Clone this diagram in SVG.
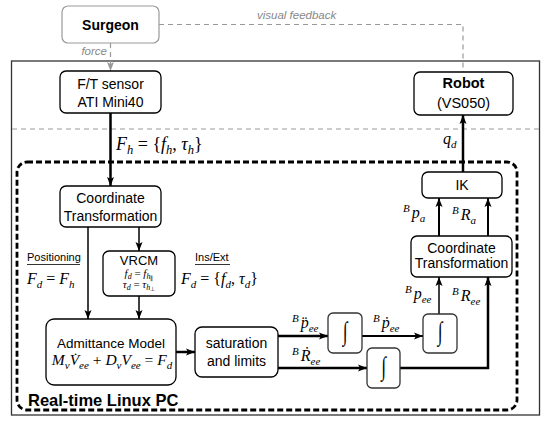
<svg xmlns="http://www.w3.org/2000/svg" width="550" height="426" viewBox="0 0 550 426">
<defs>
<style>
.box{fill:#fff;stroke:#000;stroke-width:1.3}
.ibox{fill:#fff;stroke:#333;stroke-width:1.3}
.t{font-family:"Liberation Sans",Arial,sans-serif;font-size:14px;text-anchor:middle;fill:#000}
.b{font-weight:bold}
.g{font-family:"Liberation Sans",Arial,sans-serif;font-style:italic;font-size:11.5px;fill:#888}
.m{font-family:"Liberation Serif","Times New Roman",serif;font-style:italic;font-size:16px;fill:#000}
.u{font-style:normal}
.sb{font-size:11px}
.sp{font-size:11px}
.c{fill:none;stroke:#000}
.gd{fill:none;stroke:#999;stroke-width:1.2;stroke-dasharray:5,4}
.int{font-family:"Liberation Serif",serif;font-style:italic;font-size:24px;text-anchor:middle}
</style>
<marker id="ah" markerUnits="userSpaceOnUse" markerWidth="10" markerHeight="8" refX="9" refY="4" orient="auto">
<path d="M0,0.5 L9,4 L0,7.5 L2,4 z" fill="#000"/>
</marker>
<marker id="ahg" markerUnits="userSpaceOnUse" markerWidth="10" markerHeight="8" refX="9" refY="4" orient="auto">
<path d="M0,0.5 L9,4 L0,7.5 L2,4 z" fill="#999"/>
</marker>
</defs>
<rect width="550" height="426" fill="#fff"/>

<!-- frames -->
<rect x="11.5" y="61" width="528" height="354" fill="none" stroke="#333" stroke-width="1.3"/>
<path class="gd" d="M12,129 H539"/>
<rect x="17" y="162" width="500" height="248" rx="10" fill="none" stroke="#000" stroke-width="2.8" stroke-dasharray="6,3"/>
<text x="28" y="406" font-family="Liberation Sans,Arial,sans-serif" font-weight="bold" font-size="16.5">Real-time Linux PC</text>

<!-- connectors -->
<g id="connectors">
<path class="gd" d="M159,24.5 H463 V72"/>
<text class="g" x="257" y="19">visual feedback</text>
<path class="gd" d="M110.5,43 V71" marker-end="url(#ahg)"/>
<text class="g" x="107" y="55" text-anchor="end">force</text>
<path class="c" stroke-width="2.5" d="M110.5,113 V186" marker-end="url(#ah)"/>
<path class="c" stroke-width="1.5" d="M88,227 V319" marker-end="url(#ah)"/>
<path class="c" stroke-width="1.5" d="M139,227 V251" marker-end="url(#ah)"/>
<path class="c" stroke-width="1.5" d="M139,296 V319" marker-end="url(#ah)"/>
<path class="c" stroke-width="2.5" d="M176,352 H195" marker-end="url(#ah)"/>
<path class="c" stroke-width="2.5" d="M278,336 H328" marker-end="url(#ah)"/>
<path class="c" stroke-width="2" d="M362,336 H423" marker-end="url(#ah)"/>
<path class="c" stroke-width="1.5" d="M439,314 V277" marker-end="url(#ah)"/>
<path class="c" stroke-width="2.5" d="M278,368 H367" marker-end="url(#ah)"/>
<path class="c" stroke-width="2.5" d="M400,368 H488 V277" marker-end="url(#ah)"/>
<path class="c" stroke-width="2" d="M439,236 V198" marker-end="url(#ah)"/>
<path class="c" stroke-width="2" d="M488,236 V198" marker-end="url(#ah)"/>
<path class="c" stroke-width="2.5" d="M463,172 V115" marker-end="url(#ah)"/>

<text class="m" x="116" y="150" style="font-size:18px">F<tspan class="sb" style="font-size:12.5px" dy="4">h</tspan><tspan class="u" dy="-4"> = {</tspan>f<tspan class="sb" style="font-size:12.5px" dy="4">h</tspan><tspan class="u" dy="-4">, </tspan>τ<tspan class="sb" style="font-size:12.5px" dy="4">h</tspan><tspan class="u" dy="-4">}</tspan></text>
<text class="m" x="443" y="144">q<tspan class="sb" dy="3.5">d</tspan></text>
<text class="m" x="403" y="218"><tspan class="sp" dy="-6">B</tspan><tspan dx="2" dy="6">p</tspan><tspan class="sb" dy="3.5">a</tspan></text>
<text class="m" x="452" y="220"><tspan class="sp" dy="-6">B</tspan><tspan dx="2" dy="6">R</tspan><tspan class="sb" dy="3.5">a</tspan></text>
<text class="m" x="405" y="299"><tspan class="sp" dy="-6">B</tspan><tspan dx="2" dy="6">p</tspan><tspan class="sb" dy="3.5">ee</tspan></text>
<text class="m" x="452" y="301"><tspan class="sp" dy="-6">B</tspan><tspan dx="2" dy="6">R</tspan><tspan class="sb" dy="3.5">ee</tspan></text>
<text class="m" x="292" y="328"><tspan class="sp" dy="-6">B</tspan><tspan dx="2" dy="6">p̈</tspan><tspan class="sb" dy="3.5">ee</tspan></text>
<text class="m" x="373" y="328"><tspan class="sp" dy="-6">B</tspan><tspan dx="2" dy="6">ṗ</tspan><tspan class="sb" dy="3.5">ee</tspan></text>
<text class="m" x="292" y="361"><tspan class="sp" dy="-6">B</tspan><tspan dx="2" dy="6">Ṙ</tspan><tspan class="sb" dy="3.5">ee</tspan></text>

<text x="27" y="261" font-family="Liberation Sans,Arial,sans-serif" font-size="11">Positioning</text>
<path d="M27,264.5 H80" stroke="#000" stroke-width="0.8"/>
<text class="m" x="27" y="284">F<tspan class="sb" dy="3.5">d</tspan><tspan class="u" dy="-3.5"> = </tspan>F<tspan class="sb" dy="3.5">h</tspan></text>
<text x="195" y="261" font-family="Liberation Sans,Arial,sans-serif" font-size="11">Ins/Ext</text>
<path d="M195,264.5 H230" stroke="#000" stroke-width="0.8"/>
<text class="m" x="181" y="284">F<tspan class="sb" dy="3.5">d</tspan><tspan class="u" dy="-3.5"> = {</tspan>f<tspan class="sb" dy="3.5">d</tspan><tspan class="u" dy="-3.5">, </tspan>τ<tspan class="sb" dy="3.5">d</tspan><tspan class="u" dy="-3.5">}</tspan></text>
</g>

<!-- nodes -->
<g id="surgeon">
<rect x="62" y="6" width="97" height="37" rx="6" fill="#fff" stroke="#999" stroke-width="1.2"/>
<text class="t b" x="110.5" y="29.5">Surgeon</text>
</g>
<g id="ft-sensor">
<rect class="box" x="60" y="71" width="101" height="42" rx="6"/>
<text class="t" x="110.5" y="89">F/T sensor</text>
<text class="t" x="110.5" y="107">ATI Mini40</text>
</g>
<g id="robot">
<rect class="box" x="414" y="72" width="99" height="43" rx="6"/>
<text class="t b" x="463.5" y="88" style="font-size:14.5px">Robot</text>
<text class="t" x="463.5" y="108" style="font-size:14.5px">(VS050)</text>
</g>
<g id="coord-left">
<rect class="box" x="60" y="186" width="101" height="41" rx="6"/>
<text class="t" x="110.5" y="203">Coordinate</text>
<text class="t" x="110.5" y="221">Transformation</text>
</g>
<g id="vrcm">
<rect class="box" x="103" y="251" width="72" height="45" rx="6"/>
<text class="t" x="139" y="265" style="font-size:13px">VRCM</text>
<text class="m" x="139" y="277" style="font-size:11px;text-anchor:middle">f<tspan style="font-size:8px" dy="2">d</tspan><tspan class="u" dy="-2"> = </tspan>f<tspan style="font-size:8px" dy="2">h</tspan><tspan class="u" style="font-size:6px" dy="1">∥</tspan></text>
<text class="m" x="139" y="288" style="font-size:11px;text-anchor:middle">τ<tspan style="font-size:8px" dy="2">d</tspan><tspan class="u" dy="-2"> = </tspan>τ<tspan style="font-size:8px" dy="2">h</tspan><tspan class="u" style="font-size:6px" dy="1">⊥</tspan></text>
</g>
<g id="admittance">
<rect class="box" x="46" y="319" width="130" height="66" rx="8"/>
<text class="t" x="111" y="348" style="font-size:13.5px">Admittance Model</text>
<text class="m" x="112" y="365" style="font-size:15.5px;text-anchor:middle">M<tspan class="sb" dy="3.5">v</tspan><tspan dy="-3.5">V̇</tspan><tspan class="sb" dy="3.5">ee</tspan><tspan class="u" dy="-3.5"> + </tspan>D<tspan class="sb" dy="3.5">v</tspan><tspan dy="-3.5">V</tspan><tspan class="sb" dy="3.5">ee</tspan><tspan class="u" dy="-3.5"> = </tspan>F<tspan class="sb" dy="3.5">d</tspan></text>
</g>
<g id="saturation">
<rect class="box" x="195" y="327" width="83" height="50" rx="7"/>
<text class="t" x="236.5" y="348">saturation</text>
<text class="t" x="236.5" y="366">and limits</text>
</g>
<g id="int1">
<rect class="ibox" x="328" y="313" width="34" height="40" rx="5"/>
<text class="int" transform="translate(345,340) scale(0.7,1.1)">∫</text>
</g>
<g id="int2">
<rect class="ibox" x="423" y="314" width="34" height="39" rx="5"/>
<text class="int" transform="translate(440,340) scale(0.7,1.1)">∫</text>
</g>
<g id="int3">
<rect class="ibox" x="367" y="348" width="33" height="40" rx="5"/>
<text class="int" transform="translate(383.5,375) scale(0.7,1.1)">∫</text>
</g>
<g id="coord-right">
<rect class="box" x="411" y="236" width="101" height="41" rx="6"/>
<text class="t" x="461.5" y="253">Coordinate</text>
<text class="t" x="461.5" y="268">Transformation</text>
</g>
<g id="ik">
<rect class="box" x="422" y="172" width="80" height="26" rx="6"/>
<text class="t" x="462" y="190">IK</text>
</g>
</svg>
